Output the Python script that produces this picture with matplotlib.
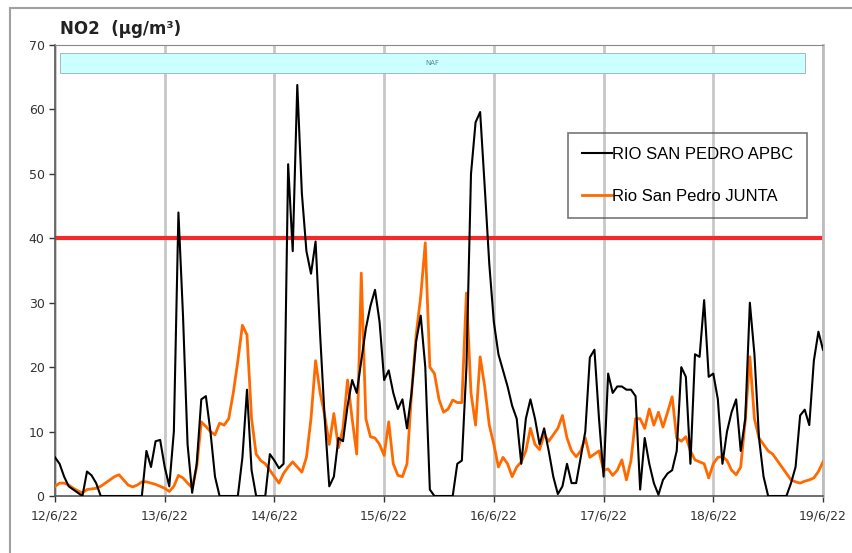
import matplotlib
matplotlib.use("Agg")
import matplotlib.pyplot as plt
import matplotlib.dates as mdates
from matplotlib.patches import Rectangle
import pandas as pd

# hourly NO2 values (ug/m3), 12/6/22 00:00 -> 19/6/22 00:00
apbc = [
    6, 5, 3, 1.5, 1, 0.5, 0, 3.8, 3.2, 2, 0, 0, 0, 0, 0, 0, 0, 0, 0, 0, 7, 4.5, 8.5, 8.7,
    4.5, 1.5, 10, 44, 28, 8, 0.5, 5, 15, 15.5, 10, 3, 0, 0, 0, 0, 0, 6, 16.5, 4, 0, 0, 0, 6.5,
    5.5, 4.3, 5, 51.5, 38, 63.8, 47, 38, 34.5, 39.5, 25, 12, 1.5, 3, 9, 8.5, 14, 18, 16, 21, 26, 29.5, 32, 27,
    18, 19.5, 16, 13.5, 15, 10.5, 16, 24, 28, 20, 1, 0, 0, 0, 0, 0, 5, 5.5, 20, 50, 58, 59.6, 48, 36,
    27, 22, 19.5, 17, 14, 12, 5, 12, 15, 12, 8, 10.5, 7, 3, 0.3, 1.5, 5, 2, 2, 6, 10, 21.5, 22.7, 12,
    3, 19, 16, 17, 17, 16.5, 16.5, 15.5, 1, 9, 5, 2, 0.2, 2.5, 3.5, 4, 7, 20, 18.5, 5, 22, 21.6, 30.4, 18.5,
    19, 15, 5, 10, 13, 15, 7, 12, 30, 22, 9, 3, 0, 0, 0, 0, 0, 2, 4.5, 12.5, 13.4, 11, 21, 25.5, 22.7,
]
junta = [
    1.5, 2, 2, 1.7, 1.2, 0.8, 0.5, 1, 1.1, 1.2, 1.5, 2, 2.5, 3, 3.3, 2.5, 1.7, 1.4, 1.7, 2.2, 2.2, 2, 1.8, 1.5,
    1.2, 0.7, 1.5, 3.2, 2.8, 2, 1.3, 4.5, 11.5, 10.8, 10, 9.5, 11.3, 11, 12, 16, 21, 26.5, 25, 12, 6.5, 5.5, 5, 4,
    3, 2, 3.5, 4.5, 5.3, 4.5, 3.7, 6, 12, 21, 16, 12.5, 8, 12.8, 7.5, 10.5, 18, 12, 6.5, 34.6, 12, 9.2, 9, 8,
    6.3, 11.5, 5, 3.2, 3, 5, 16, 25, 31, 39.3, 20, 19, 15, 13, 13.5, 14.9, 14.5, 14.5, 31.5, 16, 11, 21.6, 17, 11,
    8, 4.5, 6, 5, 3, 4.5, 5.3, 7, 10.5, 8, 7.2, 9.5, 8.5, 9.5, 10.5, 12.5, 9, 7, 6.1, 7, 9, 6, 6.5, 7,
    4, 4.2, 3.2, 4, 5.6, 2.5, 5.5, 12, 12, 10.5, 13.5, 11, 13, 10.7, 13, 15.4, 9, 8.5, 9.2, 7, 5.6, 5.3, 5, 2.8,
    5, 6, 6.1, 5.5, 4, 3.3, 4.5, 11.8, 21.6, 12, 9, 8, 7, 6.5, 5.5, 4.5, 3.5, 2.5, 2.2, 2, 2.3, 2.5, 2.8, 3.8, 5.3,
]
series_names = ["RIO SAN PEDRO APBC", "Rio San Pedro JUNTA"]
limit_value = 40
naf_period = ("2022-06-12 01:00", "2022-06-18 20:00")
naf_label = "NAF"

times = pd.date_range("2022-06-12", periods=len(apbc), freq="h")
days = pd.date_range("2022-06-12", "2022-06-19", freq="D")

fig = plt.figure(figsize=(8.53, 5.53), dpi=100)
ax = fig.add_axes([55 / 853, 57 / 553, 768 / 853, 451 / 553])

# outer chart frame (only top/left visible in the picture)
fig.patches.append(Rectangle((10 / 853, -0.2), 1.5, 0.2 + 545 / 553, transform=fig.transFigure,
                             fill=False, edgecolor="#a0a0a0", lw=1.5))

for d in days:
    ax.axvline(d, color="#c8c8c8", lw=2, zorder=0)

# NAF band
n0, n1 = mdates.date2num(pd.Timestamp(naf_period[0])), mdates.date2num(pd.Timestamp(naf_period[1]))
ax.add_patch(Rectangle((n0, 65.7), n1 - n0, 3.1, facecolor="#ccffff", edgecolor="#9ab0b0",
                       lw=0.6, zorder=1))
ax.text((n0 + n1) / 2, 67.25, naf_label, ha="center", va="center", fontsize=5, color="#5f8a96")

ax.axhline(limit_value, color="#f42a2a", lw=3, zorder=2)
ax.plot(times, apbc, color="black", lw=1.5, label=series_names[0], zorder=4)
ax.plot(times, junta, color="#ff6a00", lw=2, label=series_names[1], zorder=3)

ax.set_ylim(0, 70)
ax.set_yticks(range(0, 71, 10))
ax.set_xlim(days[0], days[-1])
ax.set_xticks(days)
ax.set_xticklabels([f"{d.day}/{d.month}/{d:%y}" for d in days])
ax.tick_params(axis="both", labelsize=9, colors="#333333", length=4, width=1)
ax.tick_params(axis="x", pad=6)

for side in ["left", "bottom"]:
    ax.spines[side].set_color("#555555")
    ax.spines[side].set_linewidth(1.2)
ax.spines["top"].set_color("#888888")
ax.spines["right"].set_color("#bdbdbd")
ax.spines["right"].set_linewidth(2)

leg = ax.legend(loc="upper left", bbox_to_anchor=(0.668, 0.805), borderaxespad=0, frameon=True,
                fancybox=False, handlelength=1.8, handletextpad=0.0, labelspacing=1.6,
                borderpad=0.85, prop={"family": "Liberation Sans", "size": 12})
leg.get_frame().set_facecolor("none")
leg.get_frame().set_edgecolor("#555555")
leg.get_frame().set_linewidth(1.2)

fig.text(60 / 853, 1 - 29 / 553, "NO2  (µg/m³)", fontsize=12, fontweight="bold",
         va="center", ha="left", color="#222222")

fig.savefig("out.png", dpi=100)
